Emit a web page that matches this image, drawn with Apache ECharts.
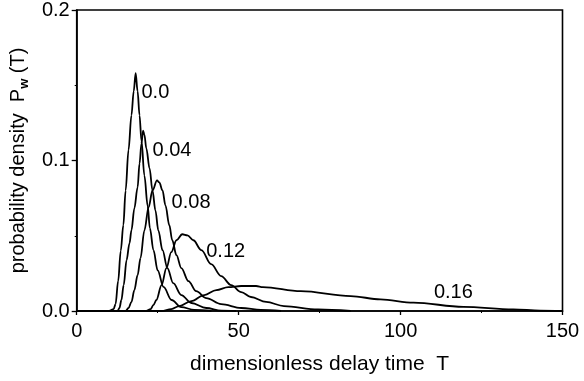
<!DOCTYPE html>
<html>
<head>
<meta charset="utf-8">
<script src="https://cdn.jsdelivr.net/npm/echarts@6/dist/echarts.min.js"></script>
<style>
  html, body { margin: 0; padding: 0; background: #fff; }
  #chart { width: 584px; height: 381px; }
</style>
</head>
<body>
<div id="chart"></div>
<script>
// delay-time densities as [T, P]
const curve000 = [
  [0, 0], [10, 0], [11.4, 0.0013], [12, 0.0046], [12.8, 0.02], [13.6, 0.04], [14.4, 0.057],
  [15.1, 0.08], [16, 0.107], [16.9, 0.13], [17.6, 0.146], [18.2, 0.158], [18.8, 0.146],
  [19.4, 0.13], [20, 0.113], [20.9, 0.09], [21.9, 0.07], [22.6, 0.055], [23.7, 0.0404],
  [25, 0.027], [26.8, 0.016], [29.3, 0.0073], [32.3, 0.0026], [36.3, 0.0007], [41.6, 0]
];
const curve004 = [
  [0, 0], [12.6, 0], [13.2, 0.002], [13.8, 0.0073], [14.5, 0.0172], [15.4, 0.0338], [16.3, 0.045],
  [16.9, 0.0536], [17.8, 0.0682], [18.8, 0.0821], [19.4, 0.098], [20.0, 0.1113], [20.5, 0.1199],
  [20.9, 0.1172], [21.5, 0.108], [22.5, 0.0947], [23.4, 0.0801], [24.3, 0.0669], [25.2, 0.0536],
  [26.5, 0.0404], [28.0, 0.0285], [29.8, 0.0185], [32.3, 0.0106], [35.4, 0.0053], [40.0, 0.002],
  [44.6, 0.0003], [49.2, 0]
];
const curve008 = [
  [0, 0], [15.1, 0], [16.0, 0.002], [16.9, 0.006], [17.8, 0.0139], [18.8, 0.0238], [19.7, 0.0351],
  [20.9, 0.0536], [22.2, 0.0689], [23.4, 0.0801], [24.8, 0.0868], [25.5, 0.0854], [26.5, 0.0801],
  [27.4, 0.0702], [28.6, 0.057], [29.5, 0.047], [30.8, 0.0371], [32.3, 0.0285], [34.5, 0.0199],
  [36.9, 0.0132], [40.0, 0.0086], [44.6, 0.0046], [50.8, 0.002], [56.9, 0.0007], [63.1, 0]
];
const curve012 = [
  [0, 0], [21.5, 0], [22.8, 0.0013], [23.7, 0.004], [24.6, 0.0073], [26.2, 0.0172], [27.7, 0.0285],
  [29.2, 0.0391], [30.8, 0.047], [32.6, 0.051], [34.2, 0.0503], [36.0, 0.047], [38.5, 0.0404],
  [41.5, 0.0311], [44.6, 0.0232], [47.7, 0.0172], [50.8, 0.0126], [53.8, 0.0093], [58.5, 0.006],
  [64.0, 0.0033], [74.5, 0.001], [84.6, 0]
];
const curve016 = [
  [0, 0], [26.2, 0], [29.2, 0.0013], [31.7, 0.0033], [35.4, 0.0066], [39.4, 0.0106], [43.1, 0.0139],
  [46.8, 0.0159], [50.8, 0.0166], [55.4, 0.0166], [57.5, 0.0159], [69.2, 0.0132], [84.6, 0.0099],
  [93.8, 0.0077], [104, 0.0055], [119.4, 0.0028], [134.8, 0.0011], [143.1, 0.0003], [149.8, 0]
];

const curveNames = ['0.0', '0.04', '0.08', '0.12', '0.16'];
const curves = [curve000, curve004, curve008, curve012, curve016];
// where each curve's label sits, in [T, P]
const labelAnchors = [[20.0, 0.1454], [23.4, 0.1066], [29.3, 0.0722], [40.0, 0.0397], [110.3, 0.0123]];

const xTicks = [0, 50, 100, 150];
const yTicks = [0, 0.1, 0.2];

const font = 'Liberation Sans, Arial, Helvetica, sans-serif';
const ink = '#000';
const chart = echarts.init(document.getElementById('chart'), null, {renderer: 'canvas'});

const lineSeries = curves.map((data, i) => ({
  name: curveNames[i],
  type: 'line',
  data,
  smooth: 0.35,
  smoothMonotone: 'x',
  showSymbol: false,
  silent: true,
  lineStyle: {color: ink, width: 1.8},
  z: 3,
}));

const labelSeries = {
  type: 'scatter',
  symbolSize: 0,
  silent: true,
  itemStyle: {color: 'transparent', opacity: 1},
  data: labelAnchors.map((p, i) => ({value: p, name: curveNames[i]})),
  label: {
    show: true,
    position: 'inside',
    align: 'left',
    verticalAlign: 'middle',
    formatter: (p) => p.name,
    color: ink,
    opacity: 1,
    textBorderWidth: 0,
    fontFamily: font,
    fontSize: 20,
  },
  z: 4,
};

chart.setOption({
  animation: false,
  backgroundColor: '#fff',
  grid: {
    left: 75,
    right: 21.5,
    top: 8,
    bottom: 70,
    show: true,
    borderColor: ink,
    borderWidth: 1.6,
  },
  xAxis: {
    type: 'value',
    min: xTicks[0],
    max: xTicks[xTicks.length - 1],
    interval: 50,
    name: 'dimensionless delay time  T',
    nameLocation: 'middle',
    nameGap: 43,
    nameTextStyle: {color: ink, fontFamily: font, fontSize: 21},
    axisLine: {lineStyle: {color: ink, width: 1.6}},
    axisTick: {length: 4, lineStyle: {color: ink, width: 1.3}},
    minorTick: {show: true, splitNumber: 2, length: 2, lineStyle: {color: ink, width: 1}},
    axisLabel: {color: ink, fontFamily: font, fontSize: 20, margin: 10},
    splitLine: {show: false},
  },
  yAxis: {
    type: 'value',
    min: yTicks[0],
    max: yTicks[yTicks.length - 1],
    interval: 0.1,
    name: '{t|probability density  P}{s|w}{t| (T)}',
    nameLocation: 'middle',
    nameGap: 42,
    nameTextStyle: {
      color: ink,
      fontFamily: font,
      rich: {
        t: {fontFamily: font, fontSize: 20, color: ink, lineHeight: 26},
        s: {fontFamily: font, fontSize: 13, fontWeight: 'bold', color: ink, lineHeight: 13, verticalAlign: 'bottom'},
      },
    },
    axisLine: {show: true, lineStyle: {color: ink, width: 1.6}},
    axisTick: {show: true, length: 5, lineStyle: {color: ink, width: 1.3}},
    minorTick: {show: true, splitNumber: 2, length: 2, lineStyle: {color: ink, width: 1}},
    axisLabel: {
      color: ink,
      fontFamily: font,
      fontSize: 20,
      margin: 7,
      formatter: (v) => v.toFixed(1),
    },
    splitLine: {show: false},
  },
  series: [...lineSeries, labelSeries],
});
</script>
</body>
</html>
